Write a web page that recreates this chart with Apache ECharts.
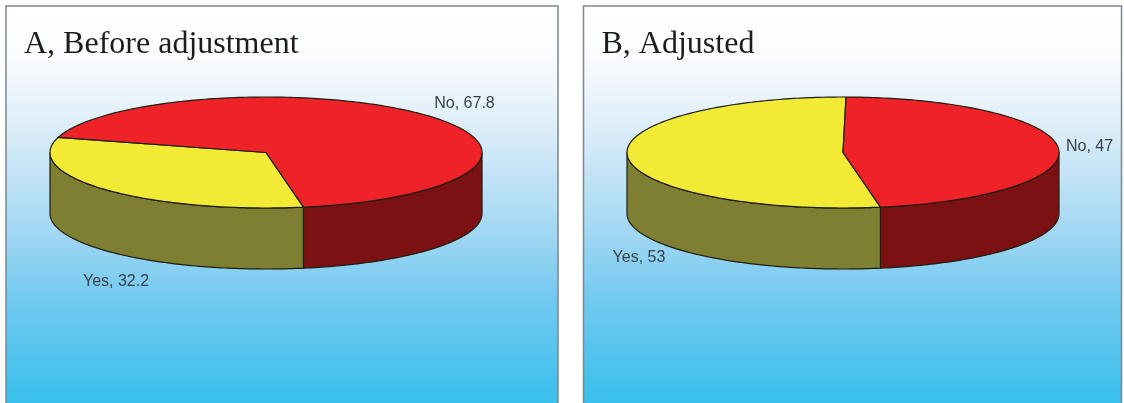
<!DOCTYPE html>
<html>
<head>
<meta charset="utf-8">
<style>html,body{margin:0;padding:0;background:#fff}#chart{width:1124px;height:403px}</style>
<script src="https://cdn.jsdelivr.net/npm/echarts@6/dist/echarts.min.js"></script>
</head>
<body>
<div id="chart"></div>
<script>
// Responses shown in both pies
const categories = ['Yes', 'No'];
const beforeAdjustment = [32.2, 67.8];
const adjusted = [53, 47];
const panelTitles = ['A, Before adjustment', 'B, Adjusted'];

// Slice styling: top face and darker side wall
const topColors = ['#f2ea35', '#ee2227'];
const sideColors = ['#7f7f33', '#7b1113'];
const edgeColor = '#1d1d10';

// Pie placement for each panel
const panels = [
  { box: [6, 6, 552, 410], cx: 266, labels: [[116, 282], [464.5, 104]] },
  { box: [583.5, 6, 538, 410], cx: 843, labels: [[639, 258], [1089.5, 147]] }
];
const cy = 152.5, rx = 216, ry = 55.5, depth = 61;
const firstAngle = 80; // degrees, clockwise from 3 o'clock

const rad = d => d * Math.PI / 180;
const onRim = (cx, a, dy) => [cx + rx * Math.cos(rad(a)), cy + dy + ry * Math.sin(rad(a))];

function arcPoints(cx, from, to, dy) {
  const pts = [];
  const n = Math.max(2, Math.ceil(Math.abs(to - from)));
  for (let i = 0; i <= n; i++) pts.push(onRim(cx, from + (to - from) * i / n, dy));
  return pts;
}

// Angles of a slice from the cumulative share of the values before it
function sliceAngles(values, index) {
  const total = values.reduce((s, v) => s + v, 0);
  const before = values.slice(0, index).reduce((s, v) => s + v, 0);
  return [firstAngle + before / total * 360, firstAngle + (before + values[index]) / total * 360];
}

// Part of the wall facing the viewer: the lower half of the rim, 0-180 and 360-540
function visibleWalls(from, to) {
  const out = [];
  [[0, 180], [360, 540]].forEach(([lo, hi]) => {
    const a = Math.max(from, lo), b = Math.min(to, hi);
    if (b > a) out.push([a, b]);
  });
  return out;
}

function pieSeries(panel, values) {
  return {
    type: 'custom',
    coordinateSystem: 'none',
    silent: true,
    animation: false,
    clip: false,
    data: values.map((v, i) => [v, i]),
    renderItem(params, api) {
      const i = api.value(1);
      const [from, to] = sliceAngles(values, i);
      const style = { stroke: edgeColor, lineWidth: 1.2, lineJoin: 'round' };
      const children = [];
      visibleWalls(from, to).forEach(([a, b]) => {
        const pts = arcPoints(panel.cx, a, b, 0).concat(arcPoints(panel.cx, b, a, depth));
        children.push({ type: 'polygon', z2: 1, shape: { points: pts }, style: { ...style, fill: sideColors[i] } });
      });
      const top = [[panel.cx, cy]].concat(arcPoints(panel.cx, from, to, 0));
      children.push({ type: 'polygon', z2: 2, shape: { points: top }, style: { ...style, fill: topColors[i] } });
      const [lx, ly] = panel.labels[i];
      children.push({
        type: 'text', z2: 3, x: lx, y: ly,
        style: {
          text: categories[i] + ', ' + api.value(0),
          fill: '#3a4148', font: '16px "Liberation Sans", Arial, sans-serif',
          align: 'center', verticalAlign: 'middle'
        }
      });
      return { type: 'group', children };
    }
  };
}

const skyFill = new echarts.graphic.LinearGradient(0, 0, 0, 1, [
  { offset: 0, color: '#ffffff' },
  { offset: 0.12, color: '#fbfcfe' },
  { offset: 0.3, color: '#dcedf8' },
  { offset: 0.55, color: '#a2d7f2' },
  { offset: 0.72, color: '#70c9f0' },
  { offset: 0.97, color: '#38bfec' },
  { offset: 1, color: '#38bfec' }
]);

const chart = echarts.init(document.getElementById('chart'), null, { renderer: 'canvas' });
chart.setOption({
  animation: false,
  backgroundColor: '#ffffff',
  title: panelTitles.map((text, i) => ({
    text,
    left: panels[i].box[0] + 18,
    top: 29,
    padding: 0,
    textStyle: { fontFamily: '"Liberation Serif", "Times New Roman", serif', fontSize: 32, fontWeight: 'normal', color: '#1c1c1c' }
  })),
  graphic: panels.map(p => ({
    type: 'rect', z: -1, silent: true,
    shape: { x: p.box[0], y: p.box[1], width: p.box[2], height: p.box[3] },
    style: { fill: skyFill, stroke: '#7c8790', lineWidth: 1.5 }
  })),
  series: [pieSeries(panels[0], beforeAdjustment), pieSeries(panels[1], adjusted)]
});
</script>
</body>
</html>
